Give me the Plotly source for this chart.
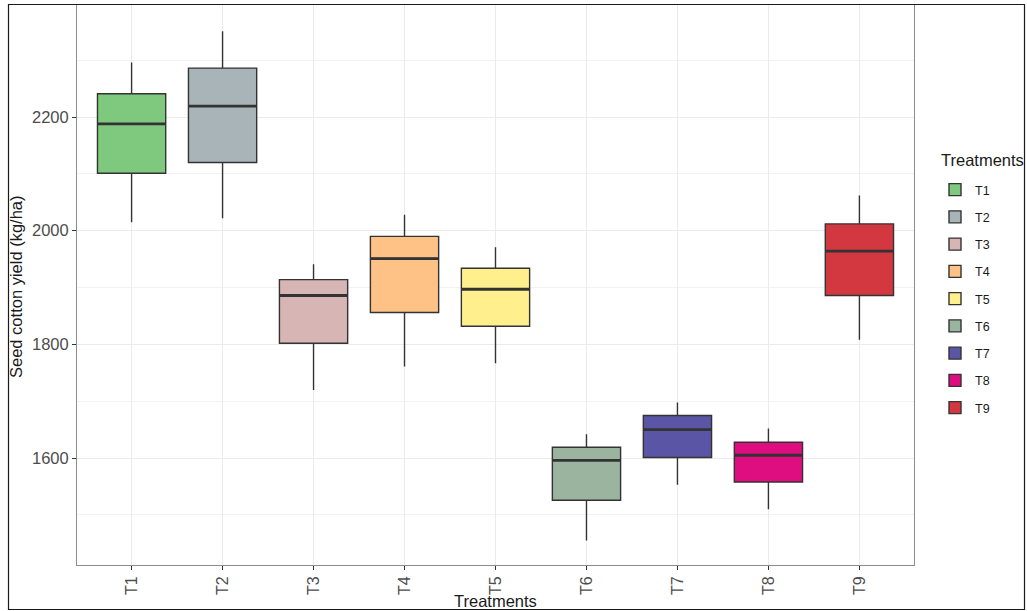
import plotly.graph_objects as go

treatments = ["T1", "T2", "T3", "T4", "T5", "T6", "T7", "T8", "T9"]
lower_whisker = [2015, 2022, 1720, 1761, 1767, 1455, 1553, 1510, 1808]
q1_vals = [2101, 2120, 1802, 1856, 1832, 1526, 1601, 1558, 1886]
median_vals = [2188, 2219, 1886, 1951, 1897, 1596, 1650, 1605, 1964]
q3_vals = [2241, 2286, 1914, 1990, 1934, 1619, 1675, 1628, 2012]
upper_whisker = [2296, 2351, 1941, 2028, 1971, 1642, 1698, 1652, 2062]
fill_colors = ["#7FC97F", "#A9B4B9", "#D7B5B4", "#FEC286", "#FFF08D",
               "#9AB4A0", "#5B55A5", "#DE0E80", "#D33840"]

BOX_W = 0.75
LINE_C = "#333333"
FONT = "Liberation Sans, Arial, sans-serif"

fig = go.Figure()
for i, t in enumerate(treatments):
    fig.add_trace(go.Box(
        x=[i], q1=[q1_vals[i]], median=[median_vals[i]], q3=[q3_vals[i]],
        lowerfence=[lower_whisker[i]], upperfence=[upper_whisker[i]],
        name=t, legendgroup=t, width=BOX_W, whiskerwidth=0,
        fillcolor=fill_colors[i], line=dict(color=LINE_C, width=1.4),
        boxpoints=False,
    ))
for i, t in enumerate(treatments):
    fig.add_trace(go.Scatter(
        x=[i - BOX_W / 2, i + BOX_W / 2], y=[median_vals[i], median_vals[i]],
        mode="lines", line=dict(color=LINE_C, width=2.8),
        showlegend=False, hoverinfo="skip", legendgroup=t,
    ))

W, H = 1027, 611
ml, mr, mt, mb = 77, 113, 5, 46
pw, ph = W - ml - mr, H - mt - mb

def px_x(p):
    return (p - ml) / pw

def px_y(p):
    return (H - mb - p) / ph

fig.update_layout(
    width=W, height=H,
    margin=dict(l=ml, r=mr, t=mt, b=mb, autoexpand=False),
    paper_bgcolor="white", plot_bgcolor="white",
    boxmode="overlay",
    font=dict(family=FONT, color="#4D4D4D", size=15),
    xaxis=dict(
        range=[-0.6, 8.6], tickmode="array",
        tickvals=list(range(len(treatments))), ticktext=treatments,
        tickangle=-90, showgrid=True, gridcolor="#EBEBEB", gridwidth=1,
        zeroline=False, showline=True, mirror=True, linecolor="#8C8C8C",
        linewidth=1, ticks="outside", ticklen=4, tickcolor="#333333",
        tickfont=dict(size=16, color="#4D4D4D"),
    ),
    yaxis=dict(
        range=[1412, 2397], tickmode="array",
        tickvals=[1600, 1800, 2000, 2200], ticktext=["1600", "1800", "2000", "2200"],
        showgrid=True, gridcolor="#EBEBEB", gridwidth=1,
        minor=dict(tickvals=[1500, 1700, 1900, 2100, 2300], showgrid=True,
                   gridcolor="#F2F2F2", gridwidth=0.8, ticks=""),
        zeroline=False, showline=True, mirror=True, linecolor="#8C8C8C",
        linewidth=1, ticks="outside", ticklen=4, tickcolor="#333333",
        tickfont=dict(size=16.5, color="#4D4D4D"),
    ),
    legend=dict(
        x=px_x(935), xanchor="left", y=px_y(175), yanchor="top",
        font=dict(size=12.5, color="#1A1A1A"), tracegroupgap=8,
        bgcolor="rgba(0,0,0,0)",
    ),
    showlegend=True,
    annotations=[
        dict(text="Treatments", xref="paper", yref="paper",
             x=px_x(939), y=px_y(160), showarrow=False,
             xanchor="left", yanchor="middle",
             font=dict(size=16.5, color="#1A1A1A")),
        dict(text="Seed cotton yield (kg/ha)", xref="paper", yref="paper",
             x=px_x(16), y=px_y(287), textangle=-90, showarrow=False,
             xanchor="center", yanchor="middle",
             font=dict(size=16.5, color="#1A1A1A")),
        dict(text="Treatments", xref="paper", yref="paper",
             x=px_x(495), y=px_y(601), showarrow=False,
             xanchor="center", yanchor="middle",
             font=dict(size=16.5, color="#1A1A1A")),
    ],
    shapes=[
        dict(type="rect", xref="paper", yref="paper",
             x0=px_x(8.5), x1=px_x(1024.5), y0=px_y(609.5), y1=px_y(4.5),
             line=dict(color="#1A1A1A", width=1.2), fillcolor="rgba(0,0,0,0)",
             layer="above"),
    ],
)

fig.write_html("out.html")
